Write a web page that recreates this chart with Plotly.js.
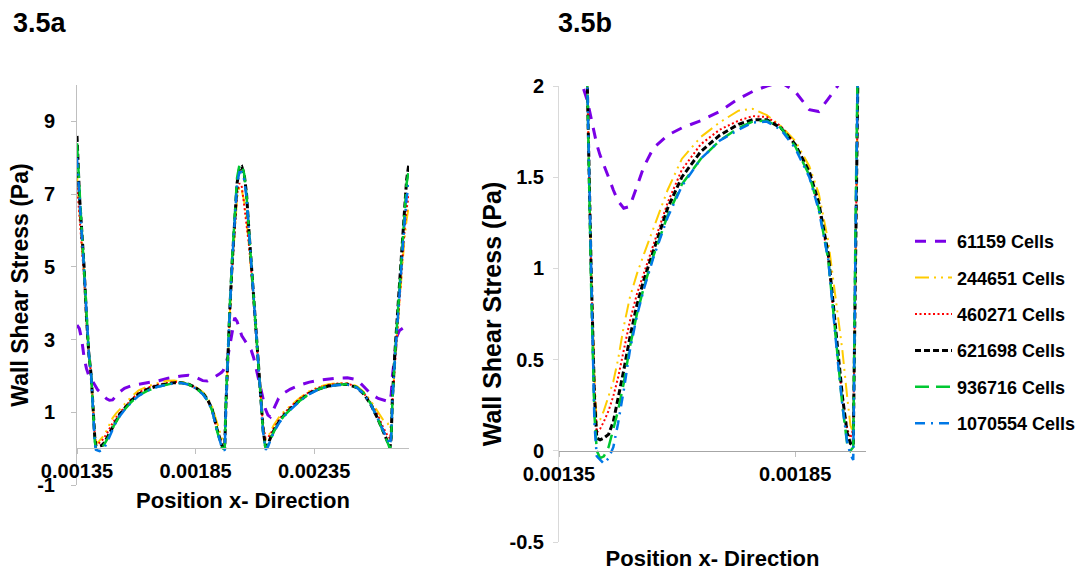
<!DOCTYPE html>
<html>
<head>
<meta charset="utf-8">
<script src="https://cdn.plot.ly/plotly-3.0.1.min.js"></script>
<style>
  html, body { margin: 0; padding: 0; background: #fff; }
  #chart { width: 1090px; height: 576px; }
</style>
</head>
<body>
<div id="chart"></div>
<script>
// Wall shear stress along the wall (x position, m) for six mesh resolutions.
const positionX = [
  0.00135, 0.00136, 0.00137, 0.00138, 0.00139, 0.0014, 0.00141, 0.001418, 0.001425, 0.00143,
  0.001437, 0.001445, 0.001455, 0.001465, 0.001475, 0.001487, 0.0015, 0.001515, 0.00153, 0.00155,
  0.00158, 0.00161, 0.00165, 0.00169, 0.00173, 0.00176, 0.00179, 0.00182, 0.00185, 0.00188,
  0.0019, 0.00192, 0.00194, 0.00195, 0.00196, 0.001967, 0.001973, 0.001978, 0.001985, 0.001995,
  0.002005, 0.002015, 0.002025, 0.002035, 0.002045, 0.002055, 0.002065, 0.002075, 0.002085, 0.002095,
  0.002105, 0.002115, 0.002125, 0.002135, 0.002145, 0.002155, 0.002165, 0.00218, 0.0022, 0.00222,
  0.00225, 0.00229, 0.00233, 0.00237, 0.00241, 0.00245, 0.00249, 0.00253, 0.00256, 0.00259,
  0.00262, 0.00264, 0.00266, 0.00267, 0.002675, 0.00268, 0.00269, 0.0027, 0.00271, 0.00272,
  0.00273, 0.00274, 0.00275
];

const cells61159 = [
  3.4, 3.3, 3.0, 2.5, 2.2, 2.0, 1.92, 1.82, 1.74, 1.68,
  1.62, 1.57, 1.5, 1.43, 1.37, 1.33, 1.34, 1.45, 1.56, 1.66,
  1.73, 1.77, 1.81, 1.86, 1.93, 1.97, 2.0, 2.02, 1.97, 1.87,
  1.86, 1.93, 2.0, 2.05, 2.1, 2.15, 2.25, 2.35, 2.5, 2.85,
  3.2, 3.6, 3.5, 3.3, 3.1, 3.0, 2.9, 2.8, 2.7, 2.5,
  2.2, 1.9, 1.6, 1.33, 1.08, 0.92, 0.87, 1.1, 1.38, 1.52,
  1.64, 1.75, 1.83, 1.88, 1.92, 1.94, 1.95, 1.9, 1.7, 1.5,
  1.38, 1.33, 1.3, 1.3, 1.5, 2.0, 2.6, 3.1, 3.25, 3.3,
  3.35, 3.38, 3.4
];

const cells244651 = [
  7.5, 6.6, 5.8, 4.8, 3.5, 2.6, 2.0, 1.0, 0.4, 0.15,
  0.17, 0.22, 0.3, 0.38, 0.5, 0.68, 0.84, 0.97, 1.08, 1.22,
  1.43, 1.6, 1.72, 1.8, 1.865, 1.875, 1.84, 1.78, 1.7, 1.56,
  1.41, 1.15, 0.75, 0.55, 0.3, 0.14, 0.1, 1.2, 2.4, 3.8,
  5.0, 6.1, 6.9, 7.2, 7.1, 6.8, 6.3, 5.6, 4.9, 4.1,
  3.2, 2.3, 1.4, 0.6, 0.25, 0.3, 0.45, 0.65, 0.85, 1.0,
  1.18, 1.4, 1.58, 1.7, 1.77, 1.8, 1.8, 1.72, 1.56, 1.3,
  1.0, 0.8, 0.7, 0.55, 0.7, 1.3, 2.3, 3.2, 4.1, 4.9,
  5.7, 6.3, 6.7
];

const cells460271 = [
  7.3, 6.5, 5.7, 4.7, 3.5, 2.6, 2.0, 1.0, 0.35, 0.1,
  0.12, 0.16, 0.22, 0.3, 0.4, 0.55, 0.71, 0.86, 0.98, 1.13,
  1.36, 1.54, 1.68, 1.76, 1.81, 1.835, 1.83, 1.78, 1.68, 1.52,
  1.33, 1.06, 0.52, 0.3, 0.12, 0.07, 0.12, 1.2, 2.4, 3.8,
  5.0, 6.1, 7.0, 7.3, 7.2, 6.7, 6.2, 5.6, 4.9, 4.1,
  3.2, 2.3, 1.4, 0.6, 0.3, 0.3, 0.4, 0.58, 0.78, 0.95,
  1.15, 1.38, 1.56, 1.68, 1.75, 1.79, 1.79, 1.7, 1.52, 1.25,
  0.9, 0.6, 0.35, 0.28, 0.5, 1.3, 2.3, 3.2, 4.2, 5.0,
  5.9, 6.6, 7.0
];

const cells621698 = [
  8.6, 7.0, 6.0, 5.0, 3.6, 2.6, 2.0, 1.0, 0.3, 0.07,
  0.06, 0.07, 0.09, 0.16, 0.28, 0.44, 0.62, 0.8, 0.94, 1.1,
  1.33, 1.5, 1.64, 1.73, 1.79, 1.815, 1.815, 1.77, 1.68, 1.53,
  1.36, 1.08, 0.55, 0.3, 0.1, 0.04, 0.03, 1.2, 2.5, 3.9,
  5.2, 6.4, 7.3, 7.7, 7.75, 7.55, 7.0, 6.0, 5.1, 4.2,
  3.2, 2.3, 1.4, 0.5, 0.05, 0.12, 0.28, 0.5, 0.72, 0.9,
  1.1, 1.33, 1.52, 1.64, 1.72, 1.76, 1.77, 1.68, 1.5, 1.2,
  0.8, 0.5, 0.15, 0.03, 0.3, 1.4, 2.6, 3.6, 4.7, 5.6,
  6.5, 7.4, 7.85
];

const cells936716 = [
  8.4, 7.0, 6.0, 4.9, 3.6, 2.6, 2.0, 0.9, 0.2, 0.0,
  -0.04, -0.03, 0.02, 0.12, 0.22, 0.37, 0.57, 0.75, 0.9, 1.07,
  1.29, 1.46, 1.6, 1.7, 1.77, 1.805, 1.81, 1.77, 1.67, 1.51,
  1.33, 1.05, 0.5, 0.25, 0.04, 0.0, 0.02, 1.3, 2.6, 4.0,
  5.3, 6.5, 7.45, 7.8, 7.8, 7.55, 6.95, 6.0, 5.1, 4.2,
  3.2, 2.3, 1.4, 0.45, 0.0, 0.08, 0.25, 0.47, 0.7, 0.88,
  1.08, 1.32, 1.51, 1.64, 1.72, 1.76, 1.77, 1.69, 1.52, 1.22,
  0.8, 0.48, 0.12, 0.0, 0.3, 1.3, 2.5, 3.5, 4.6, 5.5,
  6.4, 7.3, 7.7
];

const cells1070554 = [
  8.0, 6.8, 5.9, 4.9, 3.6, 2.6, 2.0, 0.9, 0.15, -0.03,
  -0.05, -0.07, -0.04, 0.02, 0.15, 0.33, 0.55, 0.74, 0.89, 1.06,
  1.28, 1.45, 1.6, 1.7, 1.76, 1.8, 1.805, 1.76, 1.66, 1.5,
  1.32, 1.05, 0.5, 0.25, 0.05, -0.02, -0.05, 1.2, 2.5, 3.9,
  5.2, 6.3, 7.3, 7.6, 7.6, 7.4, 6.9, 6.0, 5.1, 4.2,
  3.2, 2.3, 1.4, 0.45, -0.03, 0.05, 0.22, 0.45, 0.68, 0.87,
  1.07, 1.31, 1.5, 1.63, 1.71, 1.75, 1.76, 1.68, 1.5, 1.2,
  0.8, 0.5, 0.2, 0.1, 0.35, 1.3, 2.4, 3.4, 4.4, 5.3,
  6.1, 6.9, 7.3
];

const seriesNames = ['61159 Cells', '244651 Cells', '460271 Cells', '621698 Cells', '936716 Cells', '1070554 Cells'];
const seriesValues = [cells61159, cells244651, cells460271, cells621698, cells936716, cells1070554];

const xTickValsA = [0.00135, 0.00185, 0.00235];
const xTickTextA = ['0.00135', '0.00185', '0.00235'];
const yTickValsA = [-1, 1, 3, 5, 7, 9];
const yTickTextA = ['-1', '1', '3', '5', '7', '9'];
const xTickValsB = [0.00135, 0.00185];
const xTickTextB = ['0.00135', '0.00185'];
const yTickValsB = [-0.5, 0, 0.5, 1, 1.5, 2];
const yTickTextB = ['-0.5', '0', '0.5', '1', '1.5', '2'];

// Line styles per mesh
const lineStyles = [
  { color: '#7A00E6', width: 3,   dash: '11px,9px' },
  { color: '#FFCC00', width: 2,   dash: '14px,5px,2px,5px,2px,5px' },
  { color: '#FF0000', width: 2,   dash: '2px,2.5px' },
  { color: '#000000', width: 3,   dash: '6px,3px' },
  { color: '#00C832', width: 2.5, dash: '14px,7px' },
  { color: '#0078E6', width: 2.5, dash: '10px,6px,2px,6px' }
];

const W = 1090, H = 576;
const fx = p => p / W;
const fy = p => 1 - p / H;

const FONT = 'Liberation Sans, Arial, Helvetica, sans-serif';

const traces = [];
seriesValues.forEach((vals, i) => {
  traces.push({
    type: 'scatter', mode: 'lines', x: positionX, y: vals,
    xaxis: 'x', yaxis: 'y', name: seriesNames[i], legendgroup: 'g' + i,
    showlegend: false, line: lineStyles[i], hoverinfo: 'skip'
  });
});
seriesValues.forEach((vals, i) => {
  traces.push({
    type: 'scatter', mode: 'lines', x: positionX, y: vals,
    xaxis: 'x2', yaxis: 'y2', name: seriesNames[i], legendgroup: 'g' + i,
    showlegend: true, line: lineStyles[i], hoverinfo: 'skip'
  });
});

const tickFont = { family: FONT, size: 20, color: '#000', weight: 'bold' };
const titleFontA = { family: FONT, size: 23, color: '#000', weight: 'bold' };
const titleFontX = { family: FONT, size: 22, color: '#000', weight: 'bold' };
const titleFontB = { family: FONT, size: 25, color: '#000', weight: 'bold' };

const layout = {
  width: W, height: H,
  margin: { l: 0, r: 0, t: 0, b: 0 },
  paper_bgcolor: '#fff', plot_bgcolor: '#fff',
  showlegend: true,
  legend: {
    x: fx(910), y: fy(223), xanchor: 'left', yanchor: 'top',
    font: { family: FONT, size: 18, color: '#000', weight: 'bold' },
    itemwidth: 37, tracegroupgap: 10, traceorder: 'grouped',
    bgcolor: 'rgba(0,0,0,0)'
  },
  xaxis: {
    domain: [fx(77), fx(409)], range: [0.00135, 0.00275],
    anchor: 'free', position: fy(448),
    showline: true, linecolor: '#BFBFBF', linewidth: 1,
    ticks: 'outside', ticklen: 5, tickcolor: '#BFBFBF',
    tickvals: xTickValsA, ticktext: xTickTextA, tickfont: tickFont,
    showgrid: false, zeroline: false, automargin: false,
    title: { text: 'Position x- Direction', font: titleFontX, standoff: 11 }
  },
  yaxis: {
    domain: [fy(485), fy(85)], range: [-1, 10], anchor: 'x',
    showline: true, linecolor: '#BFBFBF', linewidth: 1,
    ticks: 'outside', ticklen: 5, tickcolor: '#BFBFBF', ticklabelstandoff: 12,
    tickvals: yTickValsA, ticktext: yTickTextA, tickfont: tickFont,
    showgrid: false, zeroline: false, automargin: false,
    title: { text: 'Wall Shear Stress (Pa)', font: titleFontA, standoff: 2 }
  },
  xaxis2: {
    domain: [fx(559), fx(866)], range: [0.00135, 0.0020],
    anchor: 'free', position: fy(451),
    showline: true, linecolor: '#A6A6A6', linewidth: 1,
    ticks: 'outside', ticklen: 5, tickcolor: '#BFBFBF',
    tickvals: xTickValsB, ticktext: xTickTextB, tickfont: tickFont,
    showgrid: false, zeroline: false, automargin: false,
    title: { text: 'Position x- Direction', font: titleFontX, standoff: 66 }
  },
  yaxis2: {
    domain: [fy(542), fy(86)], range: [-0.5, 2], anchor: 'x2',
    showline: true, linecolor: '#D9D9D9', linewidth: 1,
    ticks: 'outside', ticklen: 5, tickcolor: '#D9D9D9', ticklabelstandoff: 5,
    tickvals: yTickValsB, ticktext: yTickTextB, tickfont: tickFont,
    showgrid: false, zeroline: false, automargin: false,
    title: { text: 'Wall Shear Stress (Pa)', font: titleFontB, standoff: 0 }
  },
  annotations: [
    { text: '3.5a', xref: 'paper', yref: 'paper', x: fx(11), y: fy(23),
      xanchor: 'left', yanchor: 'middle', showarrow: false,
      font: { family: FONT, size: 27, color: '#000', weight: 'bold' } },
    { text: '3.5b', xref: 'paper', yref: 'paper', x: fx(556), y: fy(23),
      xanchor: 'left', yanchor: 'middle', showarrow: false,
      font: { family: FONT, size: 27, color: '#000', weight: 'bold' } }
  ]
};

Plotly.newPlot('chart', traces, layout, { staticPlot: true, displayModeBar: false });
</script>
</body>
</html>
